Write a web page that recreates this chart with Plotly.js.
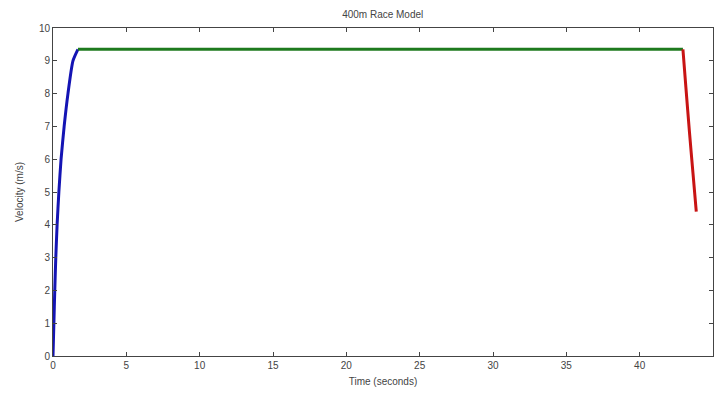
<!DOCTYPE html>
<html>
<head>
<meta charset="utf-8">
<script src="https://cdn.plot.ly/plotly-3.0.1.min.js"></script>
<style>html,body{margin:0;padding:0;background:#fff;}#chart{width:714px;height:394px;}</style>
</head>
<body>
<div id="chart"></div>
<script>
// Acceleration phase
var accelTime = [0, 0.06, 0.12, 0.19, 0.28, 0.40, 0.55, 0.76, 1.02, 1.36, 1.70];
var accelVel  = [0, 1, 2, 3, 4, 5, 6, 7, 8, 9, 9.35];
// Constant-velocity phase
var cruiseTime = [1.70, 42.95];
var cruiseVel  = [9.35, 9.35];
// Deceleration phase
var decelTime = [42.95, 43.15, 43.40, 43.63, 43.86];
var decelVel  = [9.35, 8.2, 6.8, 5.6, 4.40];

var xTicks = [0, 5, 10, 15, 20, 25, 30, 35, 40, 45];
var yTicks = [0, 1, 2, 3, 4, 5, 6, 7, 8, 9, 10];

var traces = [
  {x: accelTime, y: accelVel, mode: 'lines', line: {color: '#1414b4', width: 3, shape: 'spline', smoothing: 0.6}, hoverinfo: 'skip'},
  {x: cruiseTime, y: cruiseVel, mode: 'lines', line: {color: '#1e7a1e', width: 3}, hoverinfo: 'skip'},
  {x: decelTime, y: decelVel, mode: 'lines', line: {color: '#c81414', width: 3, shape: 'spline', smoothing: 0.6}, hoverinfo: 'skip'}
];

var axisCommon = {
  showgrid: false, zeroline: false, showline: true, linecolor: '#444', linewidth: 1,
  mirror: 'ticks', ticks: 'inside', ticklen: 4, tickcolor: '#444',
  tickfont: {family: 'Arial, Liberation Sans, sans-serif', size: 10, color: '#444'}
};

var layout = {
  width: 714, height: 394,
  margin: {l: 53, r: 1, t: 28, b: 38},
  paper_bgcolor: '#fff', plot_bgcolor: '#fff',
  showlegend: false,
  font: {family: 'Arial, Liberation Sans, sans-serif', size: 10, color: '#444'},
  title: {text: '400m Race Model', font: {size: 10, color: '#444'}, x: 0.536, xanchor: 'center', y: 0.962, yanchor: 'middle', yref: 'container'},
  xaxis: Object.assign({}, axisCommon, {
    range: [0, 45], tickvals: xTicks, ticktext: xTicks.map(String),
    title: {text: 'Time (seconds)', font: {size: 10, color: '#444'}, standoff: 7}
  }),
  yaxis: Object.assign({}, axisCommon, {
    range: [0, 10], tickvals: yTicks, ticktext: yTicks.map(String),
    title: {text: 'Velocity (m/s)', font: {size: 10, color: '#444'}, standoff: 13}
  })
};

Plotly.newPlot('chart', traces, layout, {staticPlot: true, displayModeBar: false});
</script>
</body>
</html>
